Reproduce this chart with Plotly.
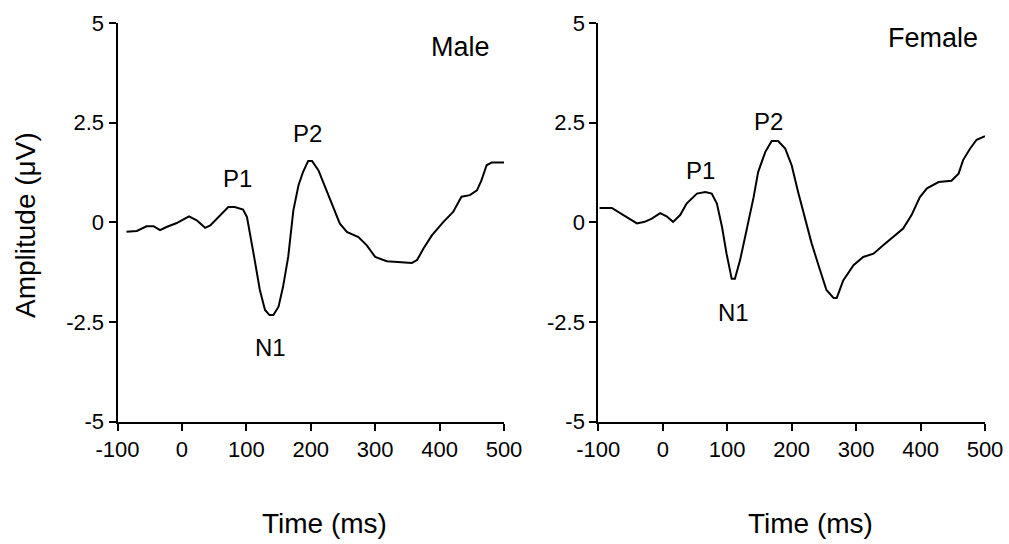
import plotly.graph_objects as go

# Grand-average ERP waveforms (time in ms, amplitude in µV)
male_t = [-86, -70, -55, -44, -34, -24, -8, 11, 23, 36, 44, 56, 72, 82, 95, 101, 106,
          113, 121, 129, 136, 142, 150, 157, 165, 173, 181, 188, 196, 202, 212, 227,
          245, 256, 274, 287, 300, 318, 357, 365, 375, 388, 406, 421, 434, 447, 458,
          465, 473, 481, 500]
male_v = [-0.24, -0.22, -0.10, -0.10, -0.20, -0.12, -0.02, 0.15, 0.05, -0.14, -0.08,
          0.12, 0.38, 0.38, 0.32, 0.13, -0.28, -0.95, -1.70, -2.20, -2.33, -2.33,
          -2.12, -1.62, -0.87, 0.30, 0.93, 1.26, 1.54, 1.54, 1.30, 0.68, -0.03, -0.24,
          -0.37, -0.58, -0.87, -0.98, -1.02, -0.95, -0.66, -0.33, 0.01, 0.26, 0.64,
          0.68, 0.80, 1.05, 1.43, 1.50, 1.50]

female_t = [-98, -79, -61, -40, -28, -17, -4, 6, 16, 27, 37, 53, 66, 76, 84, 92, 99,
            107, 112, 120, 130, 141, 148, 159, 169, 179, 190, 200, 210, 221, 231, 244,
            254, 265, 270, 280, 296, 311, 327, 342, 358, 373, 386, 399, 410, 428, 448,
            459, 466, 477, 487, 500]
female_v = [0.36, 0.36, 0.18, -0.03, 0.01, 0.09, 0.23, 0.15, 0.01, 0.18, 0.47, 0.72,
            0.76, 0.72, 0.47, -0.12, -0.79, -1.42, -1.42, -0.95, -0.20, 0.63, 1.26,
            1.76, 2.04, 2.04, 1.85, 1.43, 0.76, 0.05, -0.53, -1.20, -1.70, -1.90,
            -1.90, -1.46, -1.08, -0.87, -0.79, -0.58, -0.37, -0.16, 0.18, 0.63, 0.85,
            1.01, 1.04, 1.22, 1.56, 1.85, 2.07, 2.16]

x_ticks = [-100, 0, 100, 200, 300, 400, 500]
x_tick_text = ["-100", "0", "100", "200", "300", "400", "500"]
y_ticks = [-5, -2.5, 0, 2.5, 5]
y_tick_text = ["-5", "-2.5", "0", "2.5", "5"]

panels = [
    ("Male", male_t, male_v,
     [("P1", 87, 1.09), ("P2", 195, 2.23), ("N1", 138, -3.14)], (433, 4.40)),
    ("Female", female_t, female_v,
     [("P1", 58.6, 1.29), ("P2", 163.3, 2.53), ("N1", 109.8, -2.26)], (419, 4.62)),
]

W, H = 1009, 544
FONT = "Liberation Sans, Arial, sans-serif"
x_domains = [[117.5 / W, 504 / W], [598.3 / W, 985 / W]]
y_domain = [1 - 421.5 / H, 1 - 23 / H]

fig = go.Figure()
annotations = []
axis_style = dict(
    showline=True, linecolor="black", linewidth=2,
    ticks="outside", ticklen=7, tickwidth=2, tickcolor="black",
    showgrid=False, zeroline=False, automargin=False,
    tickfont=dict(family=FONT, size=22, color="black"),
)
centered = dict(showarrow=False, xanchor="center", yanchor="middle")

for i, (name, t, v, peaks, label_pos) in enumerate(panels):
    xa = "x" if i == 0 else "x2"
    ya = "y" if i == 0 else "y2"
    fig.add_trace(go.Scatter(
        x=t, y=v, mode="lines", xaxis=xa, yaxis=ya,
        line=dict(color="black", width=2),
        showlegend=False, hoverinfo="skip",
    ))
    sfx = "" if i == 0 else "2"
    fig.layout["xaxis" + sfx] = dict(
        domain=x_domains[i], range=[-100, 500], tickvals=x_ticks,
        ticktext=x_tick_text, anchor="y" + sfx, **axis_style)
    fig.layout["yaxis" + sfx] = dict(
        domain=y_domain, range=[-5, 5], tickvals=y_ticks, ticktext=y_tick_text,
        anchor="x" + sfx, **axis_style)
    for txt, px, py in peaks:
        annotations.append(dict(
            text=txt, x=px, y=py, xref=xa, yref=ya, **centered,
            font=dict(family=FONT, size=24, color="black")))
    annotations.append(dict(
        text=name, x=label_pos[0], y=label_pos[1], xref=xa, yref=ya, **centered,
        font=dict(family=FONT, size=27, color="black")))
    # x-axis title below each panel
    cx = [324, 810][i]
    annotations.append(dict(
        text="Time (ms)", x=cx / W, y=1 - 523 / H, xref="paper", yref="paper",
        **centered, font=dict(family=FONT, size=28, color="black")))

annotations.append(dict(
    text="Amplitude (μV)", x=25 / W, y=1 - 225 / H, xref="paper", yref="paper",
    textangle=-90, **centered,
    font=dict(family=FONT, size=28, color="black")))

fig.update_layout(
    width=W, height=H,
    margin=dict(l=0, r=0, t=0, b=0),
    paper_bgcolor="white", plot_bgcolor="white",
    annotations=annotations,
)

fig.write_html("out.html")
